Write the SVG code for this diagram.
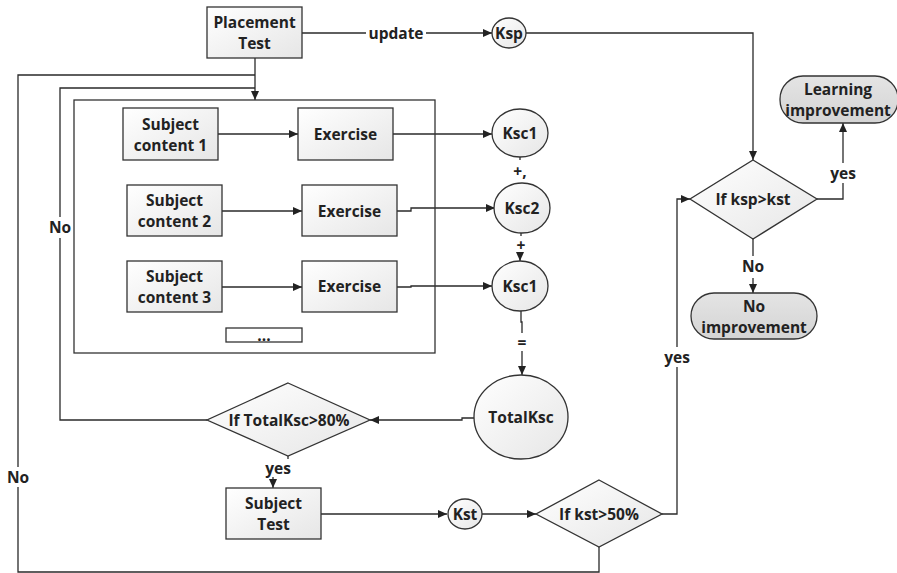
<svg xmlns="http://www.w3.org/2000/svg" width="897" height="573" viewBox="0 0 897 573">
<defs>
<linearGradient id="g" x1="0" y1="0" x2="1" y2="1">
<stop offset="0" stop-color="#ffffff"/><stop offset="1" stop-color="#e6e6e6"/>
</linearGradient>
<linearGradient id="gp" x1="0" y1="0" x2="0" y2="1">
<stop offset="0" stop-color="#e4e4e4"/><stop offset="1" stop-color="#d4d4d4"/>
</linearGradient>
<marker id="a" markerWidth="10" markerHeight="8" refX="9" refY="4" orient="auto" markerUnits="userSpaceOnUse">
<path d="M0,0 L9,4 L0,8 z" fill="#222"/>
</marker>
</defs>
<style>
.n{fill:url(#g);stroke:#333;stroke-width:1.3}
.p{fill:url(#gp);stroke:#333;stroke-width:1.3}
.c{fill:none;stroke:#2a2a2a;stroke-width:1.3}
.ar{marker-end:url(#a)}
text{font-family:"Open Sans","Liberation Sans",sans-serif;font-weight:bold;font-size:15.5px;fill:#222;text-anchor:middle;dominant-baseline:central}
</style>
<rect width="897" height="573" fill="#fff"/>

<g id="connectors">
<path class="c" d="M302,33 H366"/>
<path class="c ar" d="M426,33 H492"/>
<path class="c ar" d="M526,33 H753 V160"/>
<path class="c ar" d="M255,58 V100"/>
<path class="c" d="M599,547 V572 H18 V487"/>
<path class="c" d="M18,467 V75 H255"/>
<path class="c" d="M207,420 H60 V238"/>
<path class="c" d="M60,217 V88 H255"/>
<path class="c ar" d="M218,134 H298"/>
<path class="c ar" d="M222,211 H302"/>
<path class="c ar" d="M222,287 H302"/>
<path class="c ar" d="M393,134 H492"/>
<path class="c ar" d="M397,211 H411 V208 H495"/>
<path class="c ar" d="M397,287 H411 V286 H492"/>
<path class="c" d="M520,157 V160"/>
<path class="c" d="M521,233 V236"/>
<path class="c ar" d="M520,255 V261"/>
<path class="c" d="M521,311 V322 H522 V333"/>
<path class="c ar" d="M522,351 V375"/>
<path class="c ar" d="M474,418 H462 V420 H370"/>
<path class="c" d="M288,456 V459"/>
<path class="c ar" d="M273,477 V488"/>
<path class="c ar" d="M321,514 H447"/>
<path class="c ar" d="M482,514 H536"/>
<path class="c" d="M662,514 H677 V367"/>
<path class="c ar" d="M677,347 V199 H690"/>
<path class="c" d="M817,199 H843 V183"/>
<path class="c ar" d="M843,163 V123"/>
<path class="c" d="M753,239 V256"/>
<path class="c ar" d="M753,278 V293"/>
</g>

<g id="labels">
<text x="396" y="33">update</text>
<text x="60" y="227">No</text>
<text x="18" y="477">No</text>
<text x="520" y="171">+,</text>
<text x="521" y="245">+</text>
<text x="522" y="342">=</text>
<text x="278" y="468">yes</text>
<text x="677" y="357">yes</text>
<text x="843" y="173">yes</text>
<text x="753" y="266">No</text>
</g>

<g id="container"><rect x="74" y="100" width="361" height="253" fill="none" stroke="#333" stroke-width="1.3"/></g>

<g id="placement"><rect class="n" x="207" y="7" width="95" height="51"/><text x="254.5" y="22">Placement</text><text x="254.5" y="43">Test</text></g>
<g id="ksp"><ellipse class="n" cx="509" cy="33" rx="17" ry="15"/><text x="509" y="33">Ksp</text></g>

<g id="sc1"><rect class="n" x="123" y="108" width="95" height="52"/><text x="170.5" y="123.5">Subject</text><text x="170.5" y="144.5">content 1</text></g>
<g id="ex1"><rect class="n" x="298" y="108" width="95" height="52"/><text x="345.5" y="134">Exercise</text></g>
<g id="sc2"><rect class="n" x="127" y="185" width="95" height="51"/><text x="174.5" y="200">Subject</text><text x="174.5" y="221">content 2</text></g>
<g id="ex2"><rect class="n" x="302" y="185" width="95" height="51"/><text x="349.5" y="211">Exercise</text></g>
<g id="sc3"><rect class="n" x="127" y="261" width="95" height="51"/><text x="174.5" y="276">Subject</text><text x="174.5" y="297">content 3</text></g>
<g id="ex3"><rect class="n" x="302" y="261" width="95" height="51"/><text x="349.5" y="286">Exercise</text></g>
<g id="more"><rect x="226" y="328" width="76" height="14" fill="#fff" stroke="#333" stroke-width="1.3"/><text x="264" y="335">...</text></g>

<g id="ksc1"><ellipse class="n" cx="520" cy="133" rx="28" ry="24"/><text x="520" y="133">Ksc1</text></g>
<g id="ksc2"><ellipse class="n" cx="522" cy="208" rx="28" ry="25"/><text x="522" y="208">Ksc2</text></g>
<g id="ksc3"><ellipse class="n" cx="520" cy="286" rx="28" ry="25"/><text x="520" y="286">Ksc1</text></g>
<g id="totalksc"><ellipse class="n" cx="521" cy="417" rx="47" ry="42"/><text x="521" y="417">TotalKsc</text></g>

<g id="dTotal"><polygon class="n" points="288,383 370,420 288,456 207,420"/><text x="289" y="420">If TotalKsc&gt;80%</text></g>
<g id="subjtest"><rect class="n" x="226" y="488" width="95" height="51"/><text x="273.5" y="503">Subject</text><text x="273.5" y="524">Test</text></g>
<g id="kst"><ellipse class="n" cx="465" cy="514" rx="17" ry="15"/><text x="465" y="514">Kst</text></g>
<g id="dKst"><polygon class="n" points="599,480 662,514 599,547 536,514"/><text x="599" y="514">If kst&gt;50%</text></g>
<g id="dKsp"><polygon class="n" points="753,160 817,199 753,239 690,199"/><text x="753" y="199">If ksp&gt;kst</text></g>

<g id="learning"><rect class="p" x="780" y="76" width="118" height="47" rx="23"/><text x="838" y="89">Learning</text><text x="838" y="110">improvement</text></g>
<g id="noimp"><rect class="p" x="691" y="293" width="126" height="46" rx="23"/><text x="754" y="305.5">No</text><text x="754" y="326.5">improvement</text></g>
</svg>
